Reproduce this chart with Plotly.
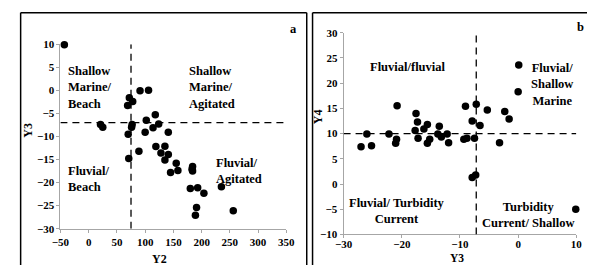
import plotly.graph_objects as go

# Panel a data (Y2 vs Y3)
y2_a = [-43, 69, 72, 78, 91, 106, 118, 102, 124, 114, 77, 76, 21, 25, 70, 100, 141,
        119, 135, 128, 141, 135, 89, 71, 155, 145, 158, 184, 183, 184, 180, 193, 204,
        235, 191, 189, 256]
y3_a = [9.9, -3.3, -1.6, -2.4, -0.1, 0.0, -5.3, -6.5, -7.3, -8.1, -7.4, -8.0, -7.4,
        -8.0, -9.5, -9.1, -9.1, -12.2, -12.1, -13.6, -13.9, -15.1, -13.2, -14.8, -15.8,
        -17.8, -17.4, -16.5, -17.1, -17.5, -21.3, -21.1, -22.3, -20.9, -25.4, -27.1, -26.1]

# Panel b data (Y3 vs Y4)
y3_b = [-27.0, -26.0, -25.2, -22.2, -20.8, -20.9, -21.05, -17.55, -17.3, -17.7, -17.2,
        -16.2, -15.6, -15.6, -15.2, -13.55, -13.8, -13.2, -12.2, -11.95, -9.05, -9.33,
        -8.8, -7.9, -7.2, -7.5, -6.55, -7.9, -7.3, -5.3, -3.2, -2.3, -1.55, 0.1, 0.0, 9.9]
y4_b = [7.4, 9.9, 7.6, 9.9, 15.5, 8.9, 8.1, 14.0, 12.3, 10.6, 9.1, 10.9, 11.8, 8.1,
        8.9, 11.45, 9.9, 9.3, 9.9, 8.2, 15.4, 8.9, 9.1, 12.5, 15.8, 9.1, 11.6, 1.3, 1.8,
        14.7, 8.2, 14.4, 12.9, 23.6, 18.3, -5.0]

# thresholds
a_vline, a_hline = 75, -7
b_vline, b_hline = -7.2, 10

W, H = 596, 271
def px(x):
    return x / W
def py(y):
    return 1 - y / H

FONT = "Liberation Serif"
tickfont = dict(family=FONT, size=11, color="black", weight="bold")
txtfont = dict(family=FONT, size=12.5, color="black", weight="bold")
titlefont = dict(family=FONT, size=12, color="black", weight="bold")
axcol = "#a6a6a6"

fig = go.Figure()
fig.add_trace(go.Scatter(x=y2_a, y=y3_a, mode="markers", xaxis="x", yaxis="y",
                         marker=dict(color="black", size=7.5), cliponaxis=False,
                         showlegend=False, hoverinfo="skip"))
fig.add_trace(go.Scatter(x=y3_b, y=y4_b, mode="markers", xaxis="x2", yaxis="y2",
                         marker=dict(color="black", size=7.5), cliponaxis=False,
                         showlegend=False, hoverinfo="skip"))

axcommon = dict(showgrid=False, zeroline=False, showline=True, linecolor=axcol,
                linewidth=1, ticks="outside", ticklen=3, tickcolor=axcol,
                tickfont=tickfont, fixedrange=True)

fig.update_layout(
    width=W, height=H, margin=dict(l=0, r=0, t=0, b=0),
    paper_bgcolor="white", plot_bgcolor="white",
    xaxis=dict(domain=[px(53), px(286)], range=[-50, 350], tickvals=list(range(-50, 351, 50)),
               anchor="y", **axcommon),
    yaxis=dict(domain=[py(233), py(40)], range=[-30, 10], tickvals=list(range(-30, 11, 5)),
               anchor="x", **axcommon),
    xaxis2=dict(domain=[px(345), px(585)], range=[-30, 10], tickvals=list(range(-30, 11, 10)),
                anchor="y2", ticklabelstandoff=-4, **axcommon),
    yaxis2=dict(domain=[py(239), py(28)], range=[-10, 30], tickvals=list(range(-10, 31, 5)),
                anchor="x2", **axcommon),
)

dash = "7px,5px"
shapes = [
    dict(type="line", xref="x", yref="y", x0=a_vline, x1=a_vline, y0=-30, y1=10,
         line=dict(color="black", width=1.3, dash=dash)),
    dict(type="line", xref="x", yref="y", x0=-50, x1=350, y0=a_hline, y1=a_hline,
         line=dict(color="black", width=1.3, dash=dash)),
    dict(type="line", xref="x2", yref="y2", x0=b_vline, x1=b_vline, y0=-10, y1=30,
         line=dict(color="black", width=1.3, dash=dash)),
    dict(type="line", xref="x2", yref="y2", x0=-30, x1=10, y0=b_hline, y1=b_hline,
         line=dict(color="black", width=1.3, dash=dash)),
    # panel borders
    dict(type="line", xref="paper", yref="paper", x0=px(12), x1=px(307), y0=py(7), y1=py(7),
         line=dict(color="black", width=1.5)),
    dict(type="line", xref="paper", yref="paper", x0=px(12), x1=px(12), y0=py(7), y1=0,
         line=dict(color="black", width=1.5)),
    dict(type="line", xref="paper", yref="paper", x0=px(307), x1=px(307), y0=py(7), y1=0,
         line=dict(color="black", width=1.5)),
    dict(type="line", xref="paper", yref="paper", x0=px(313), x1=1, y0=py(7), y1=py(7),
         line=dict(color="black", width=1.5)),
    dict(type="line", xref="paper", yref="paper", x0=px(313), x1=px(313), y0=py(7), y1=0,
         line=dict(color="black", width=1.5)),
]
fig.update_layout(shapes=shapes)

ann = []
def A(text, x, y, xref, yref, xanchor="left", yanchor="middle", align="left", angle=0, font=None):
    ann.append(dict(text=text, x=x, y=y, xref=xref, yref=yref, xanchor=xanchor,
                    yanchor=yanchor, align=align, showarrow=False, font=font or txtfont,
                    textangle=angle, borderpad=0))

# panel a labels (data coords)
A("Shallow<br>Marine/<br>Beach", -39, 6.0, "x", "y", yanchor="top")
A("Shallow<br>Marine/<br>Agitated", 176, 6.0, "x", "y", yanchor="top")
A("Fluvial/<br>Beach", -39, -15.7, "x", "y", yanchor="top")
A("Fluvial/<br>Agitated", 224, -14.0, "x", "y", yanchor="top")
A("a", px(293), py(24), "paper", "paper", xanchor="center")
A("Y2", px(155), py(265), "paper", "paper", xanchor="center", font=titlefont)
A("Y3", px(20), py(130), "paper", "paper", xanchor="center", angle=-90, font=titlefont)

# panel b labels
A("Fluvial/fluvial", -19, 23.2, "x2", "y2", xanchor="center", align="center")
A("Fluvial/<br>Shallow<br>Marine", 5.9, 24.6, "x2", "y2", xanchor="center", yanchor="top", align="center")
A("Fluvial/ Turbidity<br>Current", -20.9, -2.2, "x2", "y2", xanchor="center", yanchor="top", align="center")
A("Turbidity<br>Current/ Shallow", 1.7, -3.0, "x2", "y2", xanchor="center", yanchor="top", align="center")
A("b", px(589), py(22), "paper", "paper", xanchor="center")
A("Y3", px(462), py(271), "paper", "paper", xanchor="center", yanchor="bottom",
  font=dict(family=FONT, size=11.5, color="black", weight="bold"))
A("Y4", px(318), py(116), "paper", "paper", xanchor="center", angle=-90, font=titlefont)

fig.update_layout(annotations=ann)
fig.write_html("out.html", config={"displayModeBar": False},
               post_script="document.body.style.margin='0';document.body.style.padding='0';"
                           "document.documentElement.style.overflow='hidden';")
